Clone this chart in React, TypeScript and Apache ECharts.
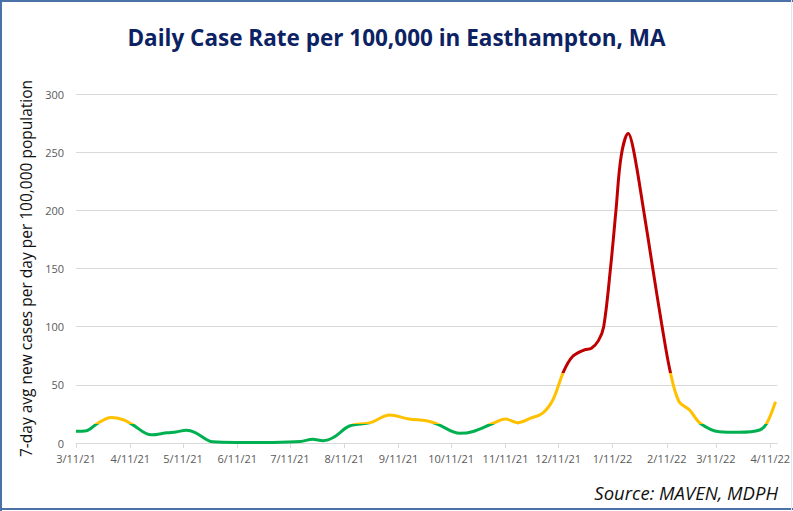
import React, { useEffect, useRef } from "react";
import * as echarts from "echarts";

const totalDays = 400;

const pointDates = [
  "2021-03-11", "2021-03-17", "2021-03-23", "2021-03-31", "2021-04-07", "2021-04-12",
  "2021-04-23", "2021-05-02", "2021-05-07", "2021-05-13", "2021-05-18", "2021-05-28",
  "2021-06-10", "2021-07-01", "2021-07-17", "2021-07-24", "2021-07-30", "2021-08-05",
  "2021-08-14", "2021-08-26", "2021-09-06", "2021-09-17", "2021-09-27", "2021-10-03",
  "2021-10-16", "2021-10-23", "2021-11-04", "2021-11-11", "2021-11-18", "2021-11-25",
  "2021-12-02", "2021-12-08", "2021-12-14", "2021-12-19", "2021-12-26", "2021-12-30",
  "2022-01-03", "2022-01-06", "2022-01-10", "2022-01-13", "2022-01-16", "2022-01-20",
  "2022-01-23", "2022-01-29", "2022-02-03", "2022-02-08", "2022-02-13", "2022-02-18",
  "2022-02-24", "2022-03-02", "2022-03-13", "2022-03-24", "2022-04-05", "2022-04-09",
  "2022-04-14",
];

const caseRates = [
  10, 10.5, 16.5, 22, 20, 16,
  7, 8.8, 9.5, 11, 9, 1,
  0.5, 0.5, 1.2, 3.3, 2, 4.9,
  14.6, 17.5, 24, 20.6, 19.2, 16.3,
  8.3, 9.7, 17, 20.6, 17.5, 21.2,
  25.5, 37, 61, 74, 80, 81.5,
  88, 100, 152, 200, 247, 266,
  252, 198, 150, 103, 61, 35.5,
  28.4, 17, 9.7, 9.2, 11.2, 17,
  35.5,
];

const tickDates = [
  "3/11/21", "4/11/21", "5/11/21", "6/11/21", "7/11/21", "8/11/21", "9/11/21",
  "10/11/21", "11/11/21", "12/11/21", "1/11/22", "2/11/22", "3/11/22", "4/11/22",
];

const yTicks = [0, 50, 100, 150, 200, 250, 300];

const DAY = 86400000;
const t0 = Date.UTC(2021, 2, 11);

function dayIndex(iso: string): number {
  const [y, m, d] = iso.split("-").map(Number);
  return Math.round((Date.UTC(y, m - 1, d) - t0) / DAY);
}

function fmt(i: number): string {
  const dt = new Date(t0 + i * DAY);
  return `${dt.getUTCMonth() + 1}/${dt.getUTCDate()}/${String(dt.getUTCFullYear()).slice(2)}`;
}

export default function App() {
  const ref = useRef<HTMLDivElement>(null);

  useEffect(() => {
    if (!ref.current) return;
    const chart = echarts.init(ref.current, undefined, { renderer: "svg" });
    const categories: string[] = [];
    for (let i = 0; i <= totalDays; i++) categories.push(fmt(i));
    const tickSet = new Set(tickDates);
    const data = pointDates.map((d, i) => [dayIndex(d), caseRates[i]]);

    chart.setOption({
      animation: false,
      backgroundColor: "#ffffff",
      grid: { left: 76, right: 15, top: 94, bottom: 68, containLabel: false },
      xAxis: {
        type: "category",
        data: categories,
        boundaryGap: false,
        axisLine: { show: true, lineStyle: { color: "#d9d9d9", width: 1 } },
        axisTick: {
          show: true,
          length: 5,
          lineStyle: { color: "#d9d9d9" },
          interval: (idx: number, val: string) => tickSet.has(val),
        },
        axisLabel: {
          interval: (idx: number, val: string) => tickSet.has(val),
          color: "#595959",
          fontSize: 11,
          fontFamily: "Open Sans",
          margin: 10,
          showMaxLabel: true,
        },
        splitLine: { show: false },
      },
      yAxis: {
        type: "value",
        min: yTicks[0],
        max: yTicks[yTicks.length - 1],
        interval: 50,
        name: "7-day avg new cases per day per 100,000 population",
        nameLocation: "middle",
        nameGap: 42,
        nameTextStyle: { color: "#111111", fontSize: 15.5, fontFamily: "Open Sans", fontWeight: 500 },
        axisLine: { show: false },
        axisTick: { show: false },
        axisLabel: { color: "#595959", fontSize: 11, fontFamily: "Open Sans", margin: 12 },
        splitLine: { lineStyle: { color: "#d9d9d9", width: 1 } },
      },
      visualMap: {
        show: false,
        type: "piecewise",
        dimension: 1,
        seriesIndex: 0,
        pieces: [
          { lt: 16.5, color: "#00b050" },
          { gte: 16.5, lt: 60, color: "#ffc000" },
          { gte: 60, color: "#c00000" },
        ],
      },
      series: [
        {
          type: "line",
          data,
          smooth: 0.35,
          showSymbol: false,
          symbol: "none",
          lineStyle: { width: 3 },
        },
      ],
      graphic: [
        {
          type: "text",
          x: 396.5,
          y: 37,
          style: {
            text: "Daily Case Rate per 100,000 in Easthampton, MA",
            font: "bold 22.5px 'Open Sans'",
            fill: "#0c2262",
            textAlign: "center",
            textVerticalAlign: "middle",
          },
        },
        {
          type: "text",
          x: 778,
          y: 492,
          style: {
            text: "Source: MAVEN, MDPH",
            font: "italic 18.5px 'Open Sans'",
            fill: "#111111",
            textAlign: "right",
            textVerticalAlign: "middle",
          },
        },
        { type: "line", shape: { x1: 0, y1: 1, x2: 793, y2: 1 }, style: { stroke: "#4a72a8", lineWidth: 2 } },
        { type: "line", shape: { x1: 1, y1: 0, x2: 1, y2: 511 }, style: { stroke: "#4a72a8", lineWidth: 2 } },
        { type: "line", shape: { x1: 0, y1: 509, x2: 793, y2: 509 }, style: { stroke: "#4a72a8", lineWidth: 2 } },
        { type: "line", shape: { x1: 791.5, y1: 0, x2: 791.5, y2: 511 }, style: { stroke: "#dfe6ef", lineWidth: 1 } },
      ],
    });
    return () => chart.dispose();
  }, []);

  return (
    <div
      ref={ref}
      style={{ position: "fixed", left: 0, top: 0, width: 793, height: 511 }}
    />
  );
}
